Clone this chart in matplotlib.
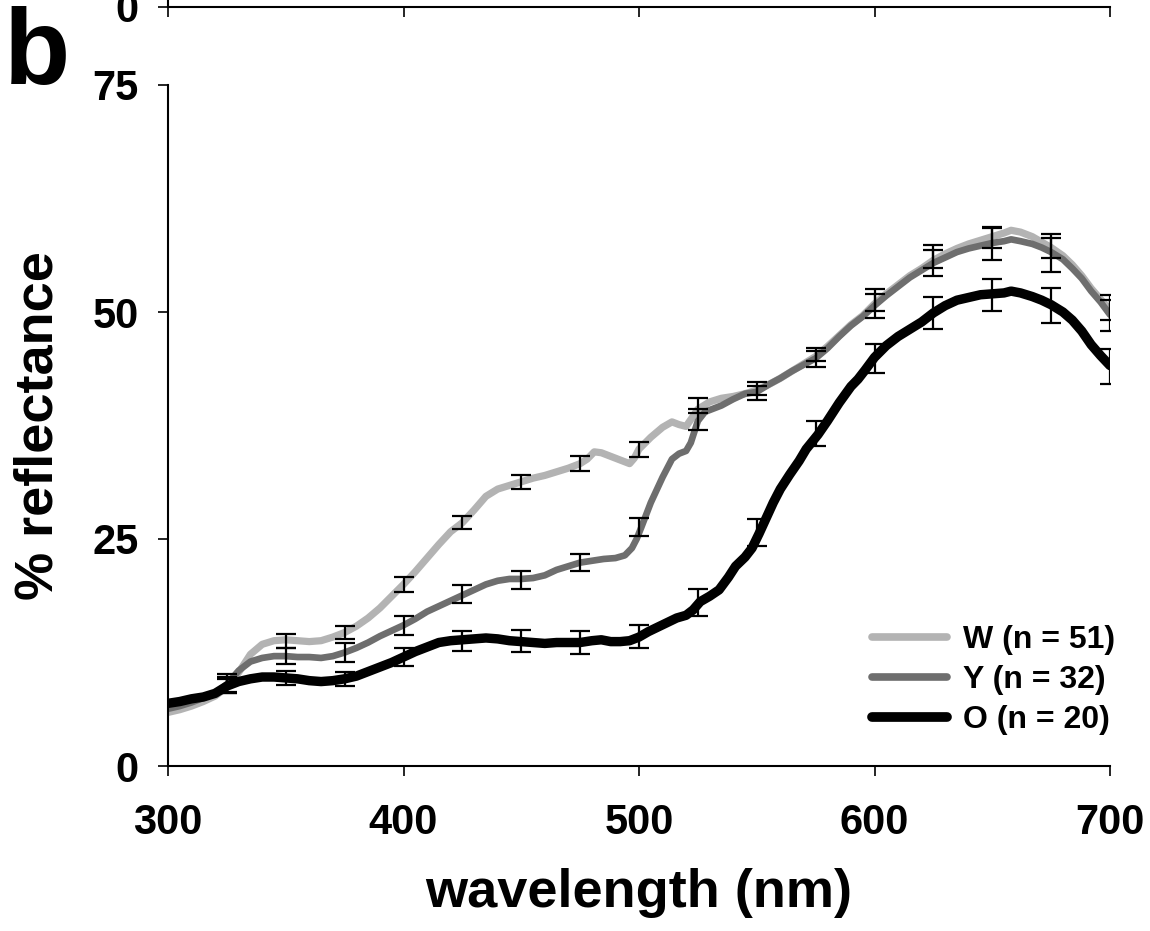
import numpy as np
import matplotlib
matplotlib.use("Agg")
import matplotlib.pyplot as plt
from matplotlib.lines import Line2D

plt.rcParams['font.family'] = ['Liberation Sans', 'DejaVu Sans']
plt.rcParams['font.weight'] = 'bold'

# ---------------- data ----------------
wl_W = [300, 305, 310, 315, 320, 325, 330, 335, 340, 345, 350, 355, 360, 365, 370, 375, 380, 385, 390, 395,
        400, 405, 410, 415, 420, 425, 430, 435, 440, 445, 450, 455, 460, 465, 470, 475, 478, 481, 484, 487,
        490, 493, 496, 498, 500, 505, 510, 514, 517, 520, 525, 530, 535, 540, 545, 550, 555, 560, 565, 570,
        575, 580, 585, 590, 595, 600, 605, 610, 615, 620, 625, 630, 635, 640, 645, 650, 655, 658, 662, 667,
        671, 675, 680, 684, 688, 692, 696, 700]
refl_W = [5.9, 6.2, 6.6, 7.1, 7.7, 8.7, 10.3, 12.3, 13.4, 13.8, 13.9, 13.8, 13.7, 13.8, 14.2, 14.7, 15.4, 16.3, 17.4, 18.7,
          20.0, 21.4, 22.9, 24.4, 25.8, 26.8, 28.2, 29.7, 30.5, 30.9, 31.3, 31.7, 32.0, 32.4, 32.8, 33.3, 33.8, 34.6, 34.5, 34.2,
          33.9, 33.6, 33.3, 33.9, 34.9, 36.2, 37.3, 37.9, 37.6, 37.4, 39.3, 40.1, 40.5, 40.7, 41.0, 41.4, 42.0, 42.7, 43.5, 44.3,
          45.1, 46.2, 47.4, 48.6, 49.6, 50.9, 52.0, 53.0, 54.0, 54.8, 55.7, 56.4, 57.0, 57.5, 57.9, 58.3, 58.7, 59.0, 58.8, 58.3,
          57.7, 57.1, 56.2, 55.2, 54.0, 52.6, 51.4, 50.2]

wl_Y = [300, 305, 310, 315, 320, 325, 330, 335, 340, 345, 350, 355, 360, 365, 370, 375, 380, 385, 390, 395,
        400, 405, 410, 415, 420, 425, 430, 435, 440, 445, 450, 455, 460, 465, 470, 475, 480, 485, 490, 494,
        497, 499, 501, 505, 510, 514, 517, 520, 522, 525, 528, 531, 535, 540, 545, 550, 555, 560, 565, 570,
        575, 580, 585, 590, 595, 600, 605, 610, 615, 620, 625, 630, 635, 640, 645, 650, 655, 658, 662, 667,
        671, 675, 680, 684, 688, 692, 696, 700]
refl_Y = [6.3, 6.6, 7.0, 7.5, 8.0, 9.0, 10.5, 11.5, 11.9, 12.1, 12.1, 12.0, 12.0, 11.9, 12.1, 12.5, 13.0, 13.6, 14.3, 14.9,
          15.5, 16.2, 17.0, 17.6, 18.2, 18.8, 19.4, 20.0, 20.4, 20.6, 20.6, 20.7, 21.0, 21.6, 22.0, 22.4, 22.6, 22.8, 22.9, 23.2,
          24.0, 25.0, 26.3, 29.0, 31.8, 33.8, 34.4, 34.7, 35.6, 38.0, 39.0, 39.3, 39.7, 40.4, 41.0, 41.2, 42.0, 42.7, 43.5, 44.2,
          44.9, 46.0, 47.3, 48.5, 49.5, 50.7, 51.8, 52.8, 53.8, 54.6, 55.4, 56.0, 56.6, 57.0, 57.3, 57.6, 57.8, 58.0, 57.8, 57.5,
          57.1, 56.6, 55.8, 54.8, 53.7, 52.3, 51.1, 49.7]

wl_O = [300, 305, 310, 315, 320, 325, 330, 335, 340, 345, 350, 355, 360, 365, 370, 375, 380, 385, 390, 395,
        400, 405, 410, 415, 420, 425, 430, 435, 440, 445, 450, 455, 460, 465, 470, 475, 480, 484, 488, 492,
        496, 500, 504, 508, 512, 516, 520, 523, 526, 530, 534, 538, 541, 545, 548, 551, 554, 557, 560, 564,
        568, 571, 576, 580, 585, 590, 593, 596, 600, 605, 610, 615, 620, 625, 630, 635, 640, 645, 650, 655,
        658, 662, 667, 671, 675, 680, 684, 688, 692, 696, 700]
refl_O = [6.9, 7.1, 7.4, 7.6, 8.0, 8.8, 9.3, 9.6, 9.8, 9.8, 9.7, 9.6, 9.4, 9.3, 9.4, 9.6, 9.9, 10.4, 10.9, 11.4,
          12.0, 12.6, 13.1, 13.6, 13.8, 13.9, 14.0, 14.1, 14.0, 13.8, 13.7, 13.6, 13.5, 13.6, 13.6, 13.6, 13.8, 13.9, 13.7, 13.7,
          13.8, 14.2, 14.8, 15.3, 15.8, 16.3, 16.6, 17.2, 18.1, 18.7, 19.4, 20.8, 22.0, 23.0, 24.0, 25.6, 27.3, 29.0, 30.5, 32.1,
          33.6, 34.9, 36.5, 38.0, 40.0, 41.8, 42.6, 43.6, 45.0, 46.3, 47.3, 48.1, 48.9, 49.9, 50.7, 51.3, 51.6, 51.9, 52.0, 52.1,
          52.3, 52.1, 51.7, 51.3, 50.8, 50.0, 49.1, 47.9, 46.4, 45.2, 44.1]

# error bars (mean +/- SE) every 25 nm
wl_err = [325, 350, 375, 400, 425, 450, 475, 500, 525, 550, 575, 600, 625, 650, 675, 700]
mean_W = [8.9, 13.75, 14.7, 20.0, 26.8, 31.3, 33.3, 34.9, 39.7, 41.6, 45.3, 51.3, 56.1, 58.2, 57.3, 50.5]
se_W = [0.9, 0.79, 0.75, 0.79, 0.73, 0.8, 0.82, 0.82, 0.8, 0.7, 0.75, 1.19, 1.24, 1.19, 1.34, 1.4]
mean_Y = [9.1, 12.1, 12.5, 15.5, 18.9, 20.5, 22.4, 26.3, 38.2, 41.1, 44.8, 50.7, 55.4, 57.5, 56.3, 49.6]
se_Y = [1.0, 0.86, 1.0, 1.06, 1.0, 0.97, 0.97, 1.0, 1.15, 0.8, 0.85, 1.32, 1.46, 1.78, 1.87, 1.7]
mean_O = [8.8, 9.7, 9.6, 12.0, 13.75, 13.8, 13.6, 14.3, 18.0, 25.7, 36.6, 44.9, 49.9, 51.9, 50.7, 44.0]
se_O = [0.8, 0.73, 0.79, 0.95, 1.1, 1.19, 1.3, 1.28, 1.46, 1.46, 1.38, 1.6, 1.74, 1.76, 1.9, 1.9]

labels = ['W (n = 51)', 'Y (n = 32)', 'O (n = 20)']
colors = ['#b3b3b3', '#6e6e6e', '#000000']
xticks = [300, 400, 500, 600, 700]
yticks = [0, 25, 50, 75]

# ---------------- figure ----------------
W_PX, H_PX = 1150, 931
fig = plt.figure(figsize=(W_PX / 100, H_PX / 100), dpi=100)

x0, x1 = 168, 1110
y0, y1 = 766, 85
ax = fig.add_axes([x0 / W_PX, 1 - y0 / H_PX, (x1 - x0) / W_PX, (y0 - y1) / H_PX])

series = [(wl_W, refl_W, mean_W, se_W, 5.2), (wl_Y, refl_Y, mean_Y, se_Y, 4.8), (wl_O, refl_O, mean_O, se_O, 6.8)]
for (wl, r, m, s, lw), c, lab in zip(series, colors, labels):
    ax.plot(wl, r, color=c, lw=lw, solid_capstyle='round', solid_joinstyle='round', label=lab, zorder=2)
for (wl, r, m, s, lw) in series:
    ax.errorbar(wl_err, m, yerr=s, fmt='none', ecolor='black', elinewidth=1.6, capsize=7, capthick=1.6, zorder=3)

ax.set_xlim(300, 700)
ax.set_ylim(0, 75)
ax.set_xticks(xticks)
ax.set_yticks(yticks)
for sp in ['top', 'right']:
    ax.spines[sp].set_visible(False)
for sp in ['left', 'bottom']:
    ax.spines[sp].set_linewidth(1.5)
ax.tick_params(axis='both', direction='out', length=7, width=1.2, labelsize=30)
ax.tick_params(axis='x', pad=20)
ax.tick_params(axis='y', pad=14)
for t in ax.get_xticklabels() + ax.get_yticklabels():
    t.set_fontweight('bold')

ax.set_xlabel('wavelength (nm)', fontsize=39, fontweight='bold')
ax.set_ylabel('% reflectance', fontsize=39, fontweight='bold')
ax.xaxis.set_label_coords(0.5, -0.15)
ax.yaxis.set_label_coords(-0.111, 0.5)

handles = [Line2D([0], [0], color=c, lw=lw, solid_capstyle='round')
           for c, lw in zip(colors, [5.5, 5.5, 7])]
leg = ax.legend(handles, labels, loc='upper left', bbox_to_anchor=(872 / W_PX, 1 - 625 / H_PX),
                bbox_transform=fig.transFigure, frameon=False, fontsize=23,
                handlelength=2.35, handletextpad=0.5, labelspacing=0.32, borderpad=0, borderaxespad=0)
for t in leg.get_texts():
    t.set_fontweight('bold')

# partial axis of the panel above
ax_top = fig.add_axes([x0 / W_PX, 1 - 7 / H_PX, (x1 - x0) / W_PX, 0.2])
ax_top.set_xlim(300, 700)
ax_top.set_ylim(0, 75)
ax_top.set_xticks(xticks)
ax_top.set_xticklabels([])
ax_top.set_yticks([0])
for sp in ['top', 'right']:
    ax_top.spines[sp].set_visible(False)
for sp in ['left', 'bottom']:
    ax_top.spines[sp].set_linewidth(1.5)
ax_top.tick_params(axis='both', direction='out', length=7, width=1.2, labelsize=30)
ax_top.tick_params(axis='y', pad=14)
for t in ax_top.get_yticklabels():
    t.set_fontweight('bold')
ax_top.patch.set_visible(False)

fig.text(4 / W_PX, 1 - 84 / H_PX, 'b', fontsize=78, fontweight='bold', ha='left', va='baseline')

fig.savefig('out.png', dpi=100)
